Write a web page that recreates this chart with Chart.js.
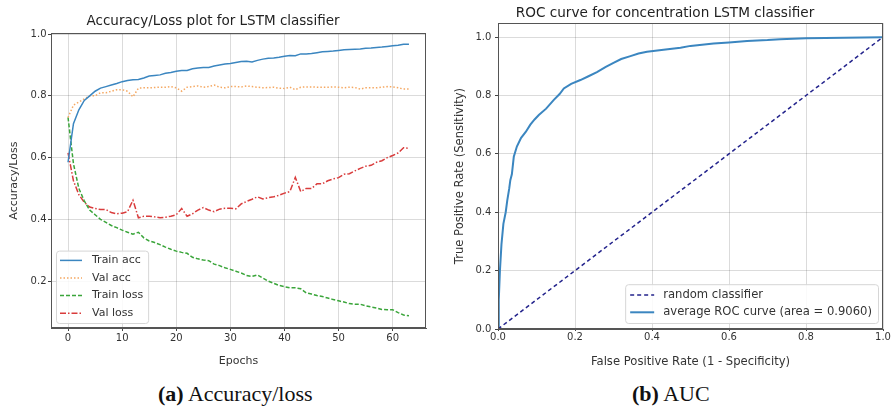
<!DOCTYPE html>
<html>
<head>
<meta charset="utf-8">
<script src="https://cdn.jsdelivr.net/npm/chart.js@4.4.0/dist/chart.umd.min.js"></script>
<style>
  body { margin: 0; background: #fff; width: 894px; height: 412px; position: relative; overflow: hidden; }
  canvas { position: absolute; top: 0; }
  #accChart { left: 0; }
  #rocChart { left: 447px; }
  .caption { position: absolute; top: 383px; font-family: "Liberation Serif", serif; font-size: 22px; line-height: 22px; color: #111; white-space: nowrap; }
</style>
</head>
<body>
<canvas id="accChart" width="447" height="375"></canvas>
<canvas id="rocChart" width="447" height="375"></canvas>
<div class="caption" style="left:158px"><b>(a)</b> Accuracy/loss</div>
<div class="caption" style="left:632px"><b>(b)</b> AUC</div>
<script>
// accuracy / loss history
var epochs = [0,1,2,3,4,5,6,7,8,9,10,11,12,13,14,15,16,17,18,19,20,21,22,23,24,25,26,27,28,29,30,31,
  32,33,34,35,36,37,38,39,40,41,42,43,44,45,46,47,48,49,50,51,52,53,54,55,56,57,58,59,60,61,62,63];
var trainAcc = [0.585,0.71,0.755,0.785,0.80,0.815,0.825,0.83,0.835,0.84,0.846,0.85,0.852,0.853,0.858,0.864,
  0.866,0.868,0.873,0.876,0.88,0.882,0.882,0.888,0.89,0.892,0.892,0.897,0.90,0.903,0.905,0.908,
  0.911,0.912,0.91,0.915,0.919,0.922,0.923,0.925,0.928,0.931,0.93,0.936,0.936,0.937,0.94,0.943,
  0.944,0.945,0.947,0.949,0.95,0.951,0.952,0.954,0.955,0.957,0.958,0.96,0.962,0.964,0.967,0.967];
var valAcc = [0.73,0.77,0.78,0.79,0.80,0.80,0.81,0.81,0.815,0.82,0.82,0.815,0.797,0.825,0.826,0.826,
  0.827,0.828,0.828,0.83,0.826,0.815,0.828,0.83,0.832,0.828,0.83,0.835,0.828,0.826,0.83,0.83,
  0.829,0.832,0.83,0.828,0.826,0.827,0.828,0.825,0.824,0.828,0.82,0.828,0.829,0.829,0.828,0.828,
  0.828,0.829,0.828,0.826,0.828,0.827,0.822,0.826,0.826,0.826,0.828,0.83,0.829,0.826,0.822,0.822];
var trainLoss = [0.73,0.58,0.50,0.46,0.43,0.415,0.40,0.39,0.38,0.373,0.365,0.358,0.352,0.358,0.34,0.33,
  0.325,0.318,0.31,0.303,0.297,0.293,0.29,0.277,0.272,0.268,0.266,0.255,0.25,0.243,0.238,0.232,
  0.226,0.218,0.215,0.22,0.21,0.20,0.193,0.186,0.182,0.178,0.178,0.175,0.162,0.158,0.153,0.15,
  0.145,0.14,0.136,0.132,0.127,0.125,0.125,0.12,0.116,0.113,0.108,0.107,0.107,0.098,0.09,0.088];
var valLoss = [0.615,0.525,0.48,0.455,0.44,0.435,0.432,0.432,0.422,0.418,0.42,0.425,0.462,0.405,0.41,0.41,
  0.408,0.405,0.407,0.41,0.415,0.435,0.41,0.418,0.43,0.438,0.43,0.425,0.433,0.436,0.436,0.434,
  0.45,0.458,0.465,0.473,0.466,0.47,0.473,0.478,0.485,0.49,0.536,0.49,0.50,0.50,0.515,0.515,
  0.525,0.531,0.535,0.546,0.548,0.557,0.565,0.572,0.575,0.585,0.59,0.60,0.607,0.615,0.632,0.63];
var accXTicks = [0, 10, 20, 30, 40, 50, 60];
var accYTicks = [0.2, 0.4, 0.6, 0.8, 1.0];

// ROC curve
var rocFpr = [0,0.002,0.005,0.009,0.014,0.02,0.024,0.029,0.032,0.036,0.041,0.049,0.06,0.072,0.084,0.095,
  0.106,0.125,0.145,0.16,0.171,0.19,0.214,0.235,0.257,0.28,0.30,0.32,0.344,0.365,0.387,0.43,
  0.474,0.50,0.56,0.60,0.647,0.70,0.733,0.80,0.90,1.0];
var rocTpr = [0,0.10,0.20,0.29,0.36,0.40,0.44,0.48,0.51,0.53,0.59,0.625,0.655,0.675,0.70,0.718,
  0.733,0.755,0.785,0.805,0.824,0.84,0.853,0.866,0.88,0.898,0.912,0.925,0.935,0.944,0.95,0.957,
  0.964,0.97,0.978,0.982,0.987,0.99,0.993,0.996,0.998,1.0];
var randFpr = [0, 1];
var randTpr = [0, 1];
var rocTicks = [0, 0.2, 0.4, 0.6, 0.8, 1.0];

Chart.defaults.font.family = '"DejaVu Sans", sans-serif';
Chart.defaults.color = '#333';

function pts(xs, ys) {
  return xs.map(function (x, i) { return { x: x, y: ys[i] }; });
}

function fixTicks(list) {
  return function (scale) { scale.ticks = list.map(function (v) { return { value: v }; }); };
}

// box round the axes plus a matplotlib-like legend inside
var framePlugin = {
  id: 'frame',
  afterDraw: function (chart, args, opts) {
    var ctx = chart.ctx, a = chart.chartArea;
    ctx.save();
    ctx.strokeStyle = '#555';
    ctx.lineWidth = 1;
    ctx.strokeRect(Math.round(a.left) + 0.5, Math.round(a.top) + 0.5,
      Math.round(a.right - a.left) - 1, Math.round(a.bottom - a.top) - 1);

    var sets = chart.data.datasets;
    ctx.font = opts.size + 'px "DejaVu Sans", sans-serif';
    var textW = 0;
    sets.forEach(function (d) { textW = Math.max(textW, ctx.measureText(d.label).width); });
    var w = opts.textOffset + textW + opts.padRight;
    var h = sets.length * opts.row + opts.padY * 2;
    var x = opts.corner === 'left' ? a.left + opts.margin : a.right - opts.marginX - w;
    var y = a.bottom - opts.margin - h;

    ctx.beginPath();
    ctx.roundRect(x + 0.5, y + 0.5, w, h, 3);
    ctx.fillStyle = 'rgba(255,255,255,0.85)';
    ctx.fill();
    ctx.strokeStyle = '#d6d6d6';
    ctx.stroke();

    sets.forEach(function (d, i) {
      var cy = y + opts.padY + opts.row * (i + 0.5);
      ctx.setLineDash(d.borderDash || []);
      ctx.strokeStyle = d.borderColor;
      ctx.lineWidth = d.borderWidth;
      ctx.beginPath();
      ctx.moveTo(x + opts.lineStart, cy);
      ctx.lineTo(x + opts.lineStart + opts.lineLen, cy);
      ctx.stroke();
      ctx.setLineDash([]);
      ctx.fillStyle = '#333';
      ctx.textBaseline = 'middle';
      ctx.fillText(d.label, x + opts.textOffset, cy);
    });
    ctx.restore();
  }
};

var gridColor = 'rgba(0,0,0,0.14)';

new Chart(document.getElementById('accChart'), {
  type: 'line',
  data: {
    datasets: [
      { label: 'Train acc', data: pts(epochs, trainAcc), borderColor: '#3b86c0', borderWidth: 1.5 },
      { label: 'Val acc', data: pts(epochs, valAcc), borderColor: '#f5a862', borderWidth: 1.5, borderDash: [1.5, 2] },
      { label: 'Train loss', data: pts(epochs, trainLoss), borderColor: '#3aa53a', borderWidth: 1.5, borderDash: [4, 2] },
      { label: 'Val loss', data: pts(epochs, valLoss), borderColor: '#d93c3c', borderWidth: 1.5, borderDash: [6, 2, 1.5, 2] }
    ]
  },
  options: {
    responsive: false,
    animation: false,
    elements: { point: { radius: 0 }, line: { tension: 0 } },
    layout: { padding: { left: 0, right: 21, top: 0, bottom: 0 } },
    plugins: {
      legend: { display: false },
      tooltip: { enabled: false },
      title: {
        display: true, text: 'Accuracy/Loss plot for LSTM classifier', color: '#222',
        font: { size: 13.5, weight: 'normal' }, padding: { top: 13, bottom: 4 }
      },
      frame: { corner: 'left', size: 11, row: 17.6, padY: 1, margin: 5, marginX: 6,
        lineStart: 4, lineLen: 22, textOffset: 36, padRight: 5 }
    },
    scales: {
      x: {
        type: 'linear', min: -3.15, max: 66.15,
        afterBuildTicks: fixTicks(accXTicks),
        afterFit: function (s) { s.height = 47; },
        grid: { color: gridColor, tickLength: 3, tickColor: '#444' },
        border: { color: '#555' },
        ticks: { font: { size: 10 }, padding: 1, maxRotation: 0 },
        title: { display: true, text: 'Epochs', font: { size: 11 }, padding: { top: 0, bottom: 7.4 } }
      },
      y: {
        min: 0.048, max: 1.003,
        afterBuildTicks: fixTicks(accYTicks),
        afterFit: function (s) { s.width = 51; },
        grid: { color: gridColor, tickLength: 3, tickColor: '#444' },
        border: { color: '#555' },
        ticks: { font: { size: 10 }, padding: 1.5, callback: function (v) { return v.toFixed(1); } },
        title: { display: true, text: 'Accuracy/Loss', font: { size: 11 }, padding: { top: 7.4, bottom: 0 } }
      }
    }
  },
  plugins: [framePlugin]
});

new Chart(document.getElementById('rocChart'), {
  type: 'line',
  data: {
    datasets: [
      { label: 'random classifier', data: pts(randFpr, randTpr), borderColor: '#23238c', borderWidth: 1.5, borderDash: [4, 3] },
      { label: 'average ROC curve (area = 0.9060)', data: pts(rocFpr, rocTpr), borderColor: '#3b86c0', borderWidth: 2 }
    ]
  },
  options: {
    responsive: false,
    animation: false,
    elements: { point: { radius: 0 }, line: { tension: 0 } },
    layout: { padding: { left: 0, right: 11, top: 0, bottom: 0 } },
    plugins: {
      legend: { display: false },
      tooltip: { enabled: false },
      title: {
        display: true, text: 'ROC curve for concentration LSTM classifier', color: '#222',
        font: { size: 13.6, weight: 'normal' }, padding: { top: 5, bottom: 1.8 }
      },
      frame: { corner: 'right', size: 11.6, row: 17.4, padY: 2, margin: 6, marginX: 5,
        lineStart: 5, lineLen: 24, textOffset: 38, padRight: 6 }
    },
    scales: {
      x: {
        type: 'linear', min: 0, max: 1,
        afterBuildTicks: fixTicks(rocTicks),
        afterFit: function (s) { s.height = 46; },
        grid: { color: gridColor, tickLength: 2, tickColor: '#444' },
        border: { color: '#555' },
        ticks: { font: { size: 10 }, padding: 0, maxRotation: 0, callback: function (v) { return v.toFixed(1); } },
        title: { display: true, text: 'False Positive Rate (1 - Specificity)', font: { size: 11.6 }, padding: { top: 0, bottom: 5.8 } }
      },
      y: {
        min: 0, max: 1.048,
        afterBuildTicks: fixTicks(rocTicks),
        afterFit: function (s) { s.width = 51; },
        grid: { color: gridColor, tickLength: 3, tickColor: '#444' },
        border: { color: '#555' },
        ticks: { font: { size: 10 }, padding: 3.7, callback: function (v) { return v.toFixed(1); } },
        title: { display: true, text: 'True Positive Rate (Sensitivity)', font: { size: 11.6 }, padding: { top: 6, bottom: 0 } }
      }
    }
  },
  plugins: [framePlugin]
});
</script>
</body>
</html>
